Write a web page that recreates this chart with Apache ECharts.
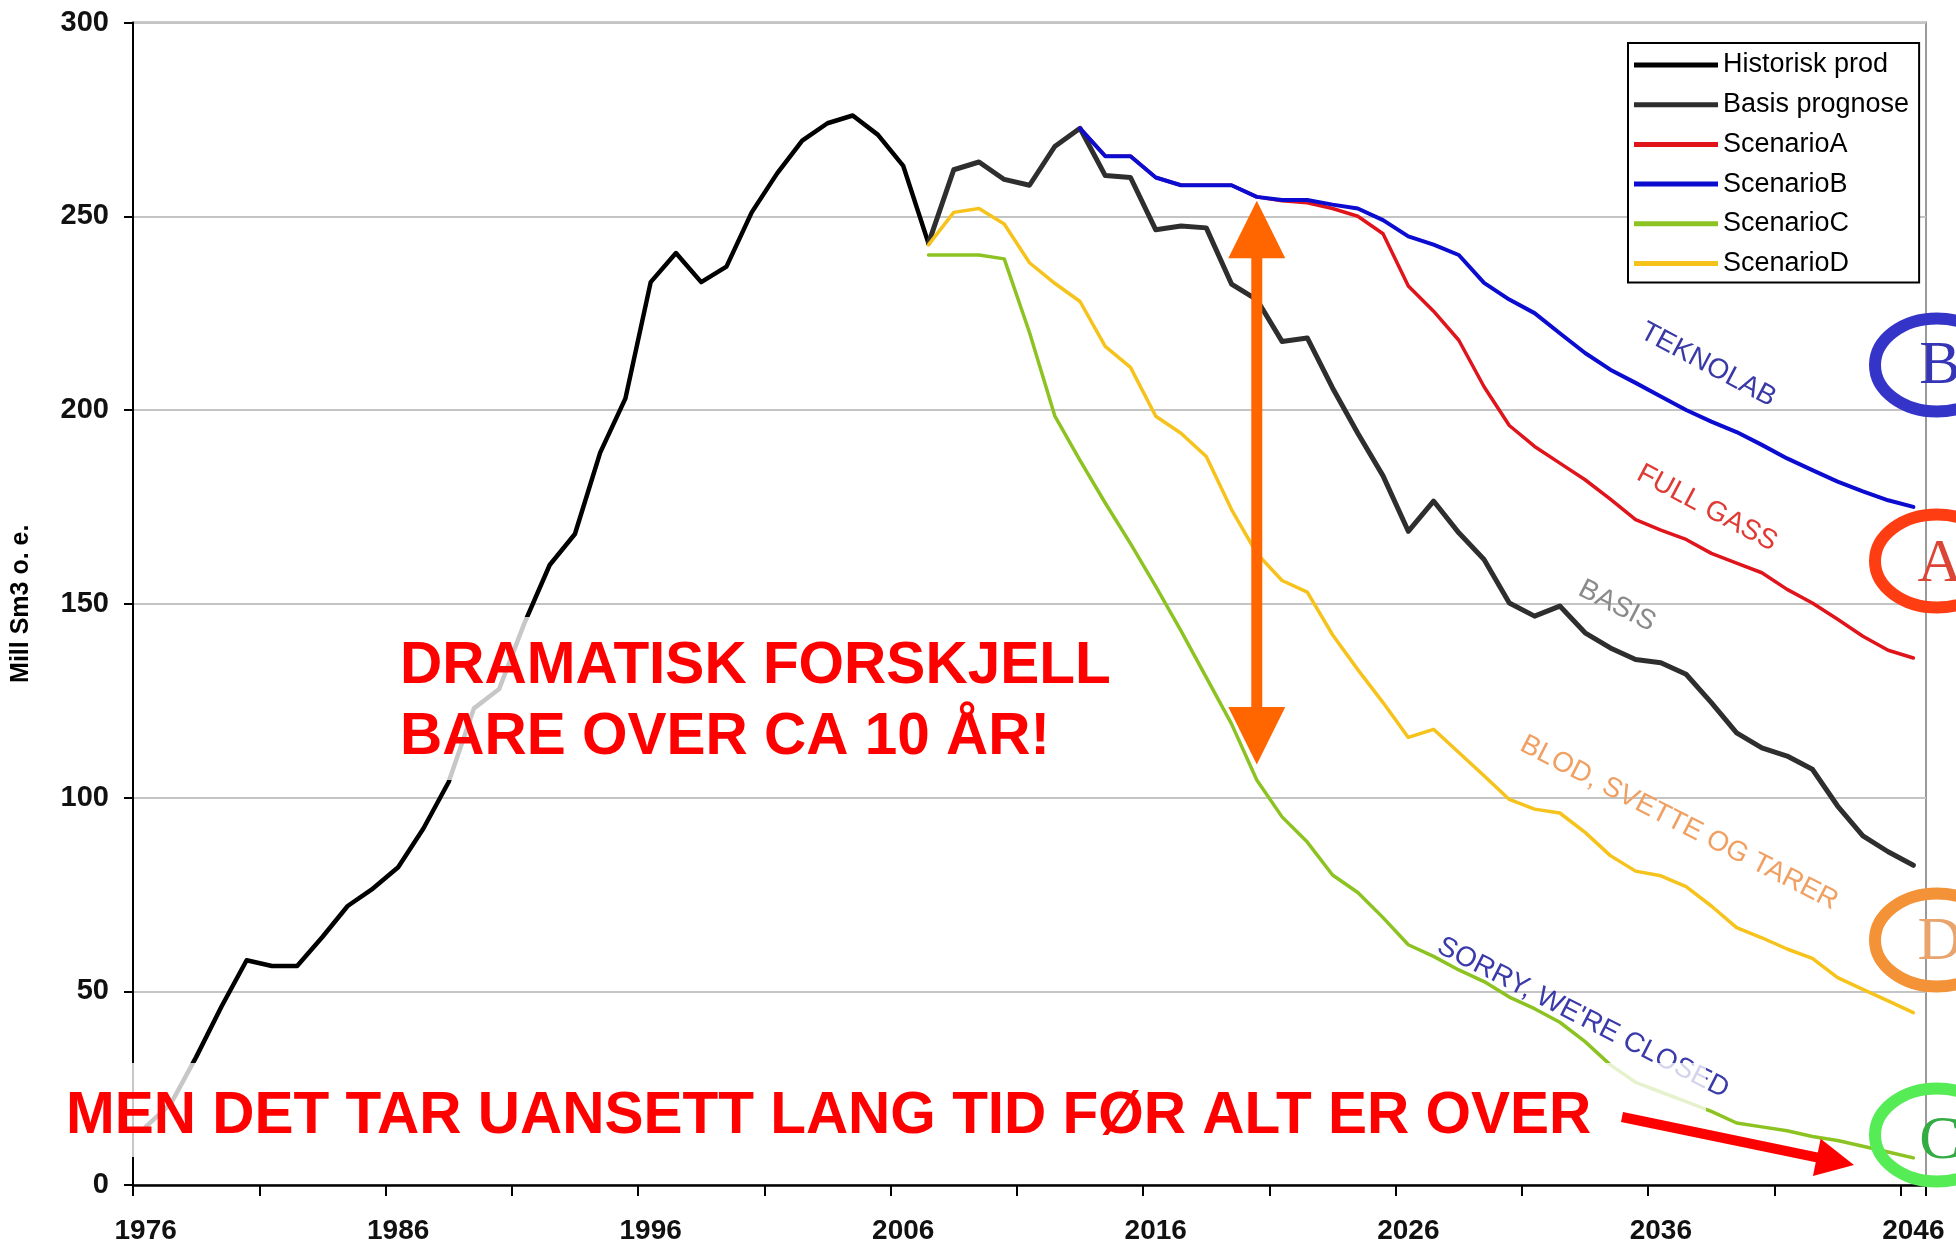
<!DOCTYPE html>
<html><head><meta charset="utf-8">
<script src="https://cdn.jsdelivr.net/npm/echarts@6/dist/echarts.min.js"></script>
<style>html,body{margin:0;padding:0;background:#fff}#c{width:1956px;height:1245px}</style>
</head><body><div id="c"></div>
<script>
// ---- data ----
const years = [1976,1977,1978,1979,1980,1981,1982,1983,1984,1985,1986,1987,1988,1989,1990,1991,1992,1993,1994,1995,
  1996,1997,1998,1999,2000,2001,2002,2003,2004,2005,2006,2007,2008,2009,2010,2011,2012,2013,2014,2015,
  2016,2017,2018,2019,2020,2021,2022,2023,2024,2025,2026,2027,2028,2029,2030,2031,2032,2033,2034,2035,
  2036,2037,2038,2039,2040,2041,2042,2043,2044,2045,2046];
const yTicks = [0,50,100,150,200,250,300];

const historiskStart = 1976;
const historiskValues = [15,21,33,46,58,56.5,56.5,64,72,76.5,82,92,104,123,128,145,160,168,189,203,
  233,240.5,233,237,251,261,269.5,274,276,271,263,243];

const basisStart = 2007;
const basisValues = [243,262,264,259.5,258,268,272.7,260.5,260,246.5,247.5,247,232.5,228.5,217.7,218.6,205.7,194,183,168.7,
  176.5,168.3,161.4,150.2,146.8,149.4,142.5,138.6,135.6,134.8,131.8,124.5,116.7,112.8,110.7,107.3,97.8,90.1,86,82.5];

const scenarioAStart = 2013;
const scenarioAValues = [272.7,265.5,265.5,260,258,258,258,255,254,253.5,252,250,245.5,232,225.5,218,206,196,190.6,186.3,
  182,177,171.7,169,166.6,163,160.5,158,153.7,150.2,146,141.6,138,136];

const scenarioBStart = 2013;
const scenarioBValues = [272.7,265.5,265.5,260,258,258,258,255,254.2,254.2,253,252,249,244.8,242.7,240,232.8,228.5,225,219.8,
  214.7,210.4,207,203.5,200,197,194.3,191,187.5,184.5,181.5,179,176.7,175];

const scenarioCStart = 2007;
const scenarioCValues = [240,240,240,239,220,198.5,187,176,165.5,154.5,143,131,119,104.5,95,88.5,80,75.5,69,62,
  59,55.5,52.5,48.5,45.5,42,37,31,26.5,24,21.5,19,16,15,14,12.5,11.5,10,8.5,7];

const scenarioDStart = 2007;
const scenarioDValues = [242.6,251,252,248,238,232.7,228,216.4,211,198.4,194,188,174.3,163,156,153,142,133,124.5,115.5,
  117.6,111.6,105.6,99.5,97,96,91,85,81,79.8,77,72,66.4,63.8,60.9,58.5,53.5,50.5,47.5,44.5];

const seriesNames = ['Historisk prod','Basis prognose','ScenarioA','ScenarioB','ScenarioC','ScenarioD'];
const seriesColors = ['#000000','#2e2e2e','#e0141b','#0c0cd0','#8cc322','#f6c31c'];

(function(){
// ---- helpers ----
function pad(start, vals){
  const out = years.map(()=>null);
  vals.forEach((v,i)=>{ const k = years.indexOf(start+i); if(k>=0) out[k]=v; });
  return out;
}
const FONT = 'Liberation Sans, Arial, sans-serif';
const chart = echarts.init(document.getElementById('c'), null, {renderer:'canvas'});

function lineSeries(name, color, width, data){
  return {type:'line', name, data, symbol:'none', showSymbol:false, connectNulls:false,
    lineStyle:{color, width, join:'round', cap:'round'}, itemStyle:{color}, emphasis:{disabled:true}};
}

chart.setOption({
  animation:false,
  backgroundColor:'#ffffff',
  grid:{left:133, right:30, top:22.5, bottom:59, show:true, borderColor:'#9a9a9a', borderWidth:2},
  legend:{
    data:seriesNames, orient:'vertical', left:1628, top:43,
    backgroundColor:'#fff', borderColor:'#000', borderWidth:2, padding:[7,10,4,6],
    icon:'rect', itemWidth:84, itemHeight:5, itemGap:9.7,
    textStyle:{fontFamily:FONT, fontSize:27, color:'#000', lineHeight:30},
    selectedMode:false
  },
  xAxis:{
    type:'category', data:years, boundaryGap:true,
    axisLine:{lineStyle:{color:'#000', width:2.5}},
    axisTick:{show:true, interval:4, length:11, lineStyle:{color:'#000', width:2}},
    axisLabel:{interval:9, fontFamily:FONT, fontSize:28, fontWeight:'bold', color:'#111', margin:32},
    splitLine:{show:false}
  },
  yAxis:{
    type:'value', min:0, max:300, interval:50,
    name:'Mill Sm3 o. e.', nameLocation:'middle', nameGap:99, nameRotate:90,
    nameTextStyle:{fontFamily:FONT, fontSize:25, fontWeight:'bold', color:'#000'},
    axisLine:{show:true, lineStyle:{color:'#000', width:2}},
    axisTick:{show:true, length:9, lineStyle:{color:'#000', width:2}},
    axisLabel:{fontFamily:FONT, fontSize:29, fontWeight:'bold', color:'#111', margin:24,
      formatter:(v)=> yTicks.includes(v) ? String(v) : ''},
    splitLine:{show:true, lineStyle:{color:'#c4c4c4', width:2}}
  },
  series:[
    lineSeries(seriesNames[0], seriesColors[0], 4.5, pad(historiskStart, historiskValues)),
    lineSeries(seriesNames[1], seriesColors[1], 5, pad(basisStart, basisValues)),
    lineSeries(seriesNames[2], seriesColors[2], 3.5, pad(scenarioAStart, scenarioAValues)),
    lineSeries(seriesNames[3], seriesColors[3], 4, pad(scenarioBStart, scenarioBValues)),
    lineSeries(seriesNames[4], seriesColors[4], 3.5, pad(scenarioCStart, scenarioCValues)),
    lineSeries(seriesNames[5], seriesColors[5], 3.5, pad(scenarioDStart, scenarioDValues))
  ]
});

// ---- annotations ----
function arrowPoly(x1,y1,x2,y2,sw,hw,hl,dbl){
  const L = Math.hypot(x2-x1,y2-y1), ux=(x2-x1)/L, uy=(y2-y1)/L, nx=-uy, ny=ux;
  const B=[x2-ux*hl, y2-uy*hl];
  const A= dbl ? [x1+ux*hl, y1+uy*hl] : [x1,y1];
  const p=(P,k)=>[P[0]+nx*k, P[1]+ny*k];
  const pts=[p(A,sw), p(B,sw), p(B,hw), [x2,y2], p(B,-hw), p(B,-sw), p(A,-sw)];
  if(dbl){ pts.push(p(A,-hw), [x1,y1], p(A,hw)); }
  return pts;
}
const yrIdx = years.indexOf(2020);
const arrTop = chart.convertToPixel({xAxisIndex:0,yAxisIndex:0},[yrIdx, 254]);
const arrBot = chart.convertToPixel({xAxisIndex:0,yAxisIndex:0},[yrIdx, 108.5]);

function rotText(text, x, y, deg, color, size){
  return {type:'text', x, y, rotation:-deg*Math.PI/180, z:40,
    style:{text, x:0, y:0, align:'center', verticalAlign:'middle', fill:color,
      font:'normal '+size+'px '+FONT}};
}
function ring(cx, cy, color){
  return {type:'ellipse', z:45, shape:{cx, cy, rx:62, ry:46.5},
    style:{fill:null, stroke:color, lineWidth:12}};
}
function letter(t, x, y, color){
  return {type:'text', x, y, z:46, style:{text:t, x:0, y:0, align:'center', verticalAlign:'middle',
    fill:color, font:'normal 62px Liberation Serif, Times New Roman, serif'}};
}
const bigFont = 'bold 58.5px '+FONT;

chart.setOption({graphic:[
  rotText('TEKNOLAB', 1708, 365, 28, '#3a3aa6', 28),
  rotText('FULL GASS', 1707, 508, 28, '#e03a35', 28),
  rotText('BASIS', 1617, 606, 27, '#8a8a8a', 28),
  rotText('BLOD, SVETTE OG TARER', 1679, 823, 27, '#f0a062', 28),
  rotText('SORRY, WE\'RE CLOSED', 1583, 1018, 27, '#3a3aaa', 28),
  {type:'rect', z:50, shape:{x:392, y:617, width:760, height:163}, style:{fill:'rgba(255,255,255,0.78)'}},
  {type:'rect', z:50, shape:{x:52, y:1063, width:1654, height:94}, style:{fill:'rgba(255,255,255,0.78)'}},
  {type:'text', x:400, y:667, z:60, style:{text:'DRAMATISK FORSKJELL', x:0, y:0, align:'left', verticalAlign:'middle', fill:'#ff0000', font:bigFont}},
  {type:'text', x:400, y:737.5, z:60, style:{text:'BARE OVER CA 10 ÅR!', x:0, y:0, align:'left', verticalAlign:'middle', fill:'#ff0000', font:bigFont}},
  {type:'text', x:66, y:1116.5, z:60, style:{text:'MEN DET TAR UANSETT LANG TID FØR ALT ER OVER', x:0, y:0, align:'left', verticalAlign:'middle', fill:'#ff0000', font:bigFont}},
  {type:'polygon', z:55, shape:{points:arrowPoly(arrTop[0],arrTop[1],arrBot[0],arrBot[1],5.5,28.5,57.5,true)}, style:{fill:'#ff6600'}},
  {type:'polygon', z:65, shape:{points:arrowPoly(1622,1117,1854,1165,5,19,38,false)}, style:{fill:'#ff0000'}},
  ring(1937, 365, '#3434c8'), letter('B', 1940, 367, '#3535b5'),
  ring(1937, 561, '#ff3d12'), letter('A', 1940, 565, '#dc4535'),
  ring(1937, 940, '#f39237'), letter('D', 1940, 943, '#e8a46c'),
  ring(1937, 1135, '#55ec55'), letter('C', 1940, 1142, '#34ac44')
]});
})();
</script></body></html>
